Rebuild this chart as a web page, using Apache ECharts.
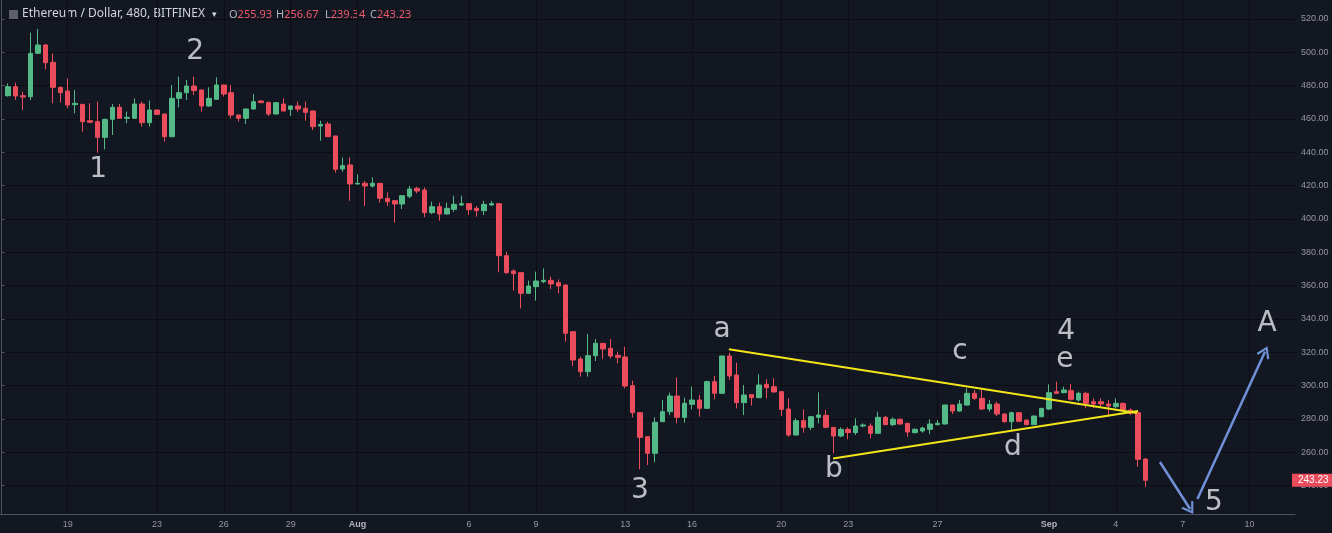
<!DOCTYPE html>
<html><head><meta charset="utf-8">
<script src="https://cdn.jsdelivr.net/npm/echarts@6/dist/echarts.min.js"></script>
<style>html,body{margin:0;padding:0;background:#131722;overflow:hidden}#c{width:1332px;height:533px}</style>
</head><body><div id="c"></div>
<script>
// Candle period: 480 minutes (1/3 day). X values are days since 16 Jul 00:00.
const firstCandleDay = 1 / 3;
const candleDays = 1 / 3;

const opens = [474.0,479.4,474.0,473.4,499.4,504.4,494.0,479.0,476.8,468.6,
468.8,459.0,458.4,449.0,459.8,467.0,460.4,460.4,469.0,457.8,
465.4,463.0,449.4,472.4,475.8,479.8,477.4,467.8,471.8,480.4,
475.8,462.4,460.4,466.0,470.8,470.0,463.0,469.0,465.8,467.8,
466.4,464.8,455.8,457.0,449.8,430.0,432.4,421.0,421.4,419.8,
421.4,412.4,411.0,409.0,413.6,418.4,417.4,403.8,407.4,403.0,
405.8,408.4,409.2,406.4,405.0,408.4,409.2,378.0,368.8,367.8,
355.4,359.4,362.4,363.2,361.8,360.4,332.4,316.0,308.4,318.0,
325.4,322.4,318.2,317.2,300.0,283.8,269.4,259.4,278.4,284.4,
293.8,281.0,288.8,291.4,286.4,302.4,295.4,317.8,306.4,289.8,
294.6,292.8,300.8,299.4,296.4,286.0,270.4,279.0,275.0,281.0,
282.2,275.0,269.8,273.8,271.8,275.8,275.8,271.4,281.0,276.6,
279.8,277.4,271.8,272.8,273.8,276.6,277.0,288.4,284.8,288.4,
295.4,292.4,286.0,289.0,283.0,278.4,283.8,279.4,276.6,281.4,
286.0,296.4,295.8,297.0,291.4,295.4,290.4,290.4,289.0,287.4,
289.4,285.4,283.8,255.93];

const closes = [479.4,473.8,473.2,499.4,504.4,493.8,479.0,475.8,468.4,469.4,
458.4,458.0,449.0,459.8,467.0,460.4,461.0,469.0,457.8,465.4,
462.8,449.4,472.4,475.8,479.8,477.0,467.8,472.4,480.4,475.0,
462.4,460.4,466.0,470.4,469.8,463.0,469.8,464.8,467.8,466.0,
464.0,455.4,456.8,449.4,429.8,432.0,421.0,421.4,419.8,421.4,
412.4,410.4,409.0,414.0,418.0,416.8,403.8,407.4,403.0,406.4,
408.8,409.2,405.6,405.0,408.8,409.2,378.0,367.8,367.2,355.4,
359.8,362.8,363.2,361.0,359.8,331.4,315.4,308.4,318.0,325.4,
322.0,317.8,317.0,299.8,283.8,269.0,259.4,278.0,284.4,293.8,
281.0,289.4,291.4,286.4,302.4,295.4,317.8,305.8,289.8,294.4,
292.8,300.4,298.8,296.2,285.8,270.4,279.0,275.0,281.4,282.4,
275.0,269.8,273.8,271.8,275.8,276.4,271.4,281.0,276.6,279.8,
277.0,272.2,273.8,274.6,277.0,277.4,288.4,284.8,289.0,295.4,
292.4,286.0,288.8,283.0,278.4,283.8,278.6,276.6,281.8,286.4,
295.8,295.4,297.4,291.8,295.4,289.4,289.0,289.0,287.8,289.4,
285.4,283.4,255.8,243.23];

const lows = [473.4,471.4,465.4,471.4,499.0,489.8,469.4,469.8,466.4,463.4,
452.4,457.8,439.8,441.8,450.4,460.0,457.4,460.0,455.4,455.4,
462.4,446.4,449.0,467.0,471.4,474.4,464.4,467.4,471.6,473.4,
460.4,458.4,457.0,465.8,469.6,461.8,462.8,464.6,461.8,464.4,
459.0,453.4,447.0,449.2,427.8,428.4,411.0,420.8,407.8,418.8,
409.8,407.8,397.8,406.0,412.4,415.4,401.0,403.0,399.0,402.8,
404.4,407.8,402.4,401.4,402.4,408.0,368.0,367.0,357.0,346.4,
355.2,351.0,361.4,358.0,355.4,326.4,311.8,305.4,305.4,314.8,
316.0,316.4,313.4,298.4,281.0,249.8,252.4,254.0,278.2,282.4,
277.4,277.8,285.8,281.4,286.2,291.8,295.2,303.4,286.4,282.4,
288.0,292.6,292.4,296.0,281.8,269.4,270.2,271.8,273.4,277.4,
274.4,259.4,269.0,267.8,270.4,275.0,268.4,271.2,276.4,275.8,
276.6,269.4,271.4,271.8,271.0,276.2,276.8,283.0,284.4,288.0,
291.4,285.4,284.4,281.8,277.8,273.4,278.4,276.2,276.4,281.0,
285.4,295.0,295.4,291.0,290.4,286.4,286.4,287.4,281.4,286.4,
285.0,282.4,251.4,239.34];

const highs = [481.4,481.8,476.4,511.8,514.0,505.0,499.4,479.4,484.4,477.4,
469.0,469.4,470.4,460.2,469.0,469.0,464.4,472.4,470.4,471.0,
465.6,463.2,480.4,485.4,483.4,485.4,477.6,479.0,485.0,480.6,
480.4,462.6,466.2,475.0,471.4,470.2,470.0,472.4,468.0,470.4,
470.4,465.0,459.0,458.4,450.0,436.8,437.0,426.8,422.8,425.0,
421.6,416.0,411.2,414.2,419.8,419.4,419.0,410.4,409.8,409.8,
414.0,414.0,409.4,407.8,410.8,410.8,409.4,380.4,369.8,368.0,
363.0,368.4,370.4,365.4,363.8,360.6,332.6,317.4,331.0,328.0,
325.6,328.0,320.4,323.4,303.0,284.0,269.6,281.0,291.4,295.8,
305.0,292.8,299.4,294.4,303.0,305.8,318.0,319.8,313.8,300.4,
294.8,306.8,303.8,304.4,296.6,292.4,280.4,285.8,281.6,296.0,
285.4,275.2,275.0,275.0,280.4,277.4,277.4,284.4,281.8,281.0,
280.4,277.6,274.4,275.4,279.8,279.4,288.6,288.6,291.4,298.4,
297.4,297.4,291.4,290.4,283.2,284.4,284.0,279.6,282.0,286.6,
300.8,302.4,299.4,301.0,296.4,296.4,292.4,292.4,291.4,292.4,
289.8,286.4,284.4,256.67];

const xGridDays   = [0, 3, 7, 10, 13, 16, 21, 24, 28, 31, 35, 38, 42, 47, 50, 53, 56];
const xTickDays   = [3, 7, 10, 13, 16, 21, 24, 28, 31, 35, 38, 42, 47, 50, 53, 56];
const xTickLabels = ['19','23','26','29','Aug','6','9','13','16','20','23','27','Sep','4','7','10'];
const yTickValues = [240,260,280,300,320,340,360,380,400,420,440,460,480,500,520];

// Wave annotations: [day, price, text]
const waveLabels = [
  [4.37, 429.4, '1'], [8.71, 500.2, '2'], [28.66, 236.8, '3'], [47.77, 332.2, '4'],
  [54.40, 229.6, '5'], [56.78, 337.0, 'A'],
  [32.34, 333.4, 'a'], [37.36, 249.4, 'b'], [43.01, 320.2, 'c'], [45.39, 262.6, 'd'], [47.72, 315.4, 'e']
];
// Triangle trendlines: [day, price]
const upperLine = [[32.65, 321.8], [50.95, 283.6]];
const lowerLine = [[37.32, 256.3], [51.00, 284.8]];
// Projection arrows: [fromDay, fromPrice, toDay, toPrice]
const arrows = [[51.98, 254.2, 53.33, 226.0], [53.66, 232.0, 56.69, 320.4]];

const lastPrice = 243.23;

const candles = opens.map((o, i) => [firstCandleDay + i * candleDays, o, closes[i], lows[i], highs[i]]);

const UP = '#53b987', DOWN = '#eb4d5c';
const chart = echarts.init(document.getElementById('c'));
const axisFont = 'Liberation Sans, Arial, sans-serif';
const hdrFont = '11px Noto Sans, sans-serif';

chart.setOption({
  backgroundColor: '#131722',
  animation: false,
  grid: { left: 0, top: 0, right: 37, bottom: 19, containLabel: false, outerBoundsMode: 'none' },
  xAxis: {
    type: 'value', min: -0.036, max: 58.036,
    axisLine: { show: true, lineStyle: { color: '#50535e', width: 1 } },
    axisTick: { show: false, customValues: xGridDays },
    splitLine: { show: true, lineStyle: { color: '#0b0d12', width: 1 } },
    axisLabel: {
      customValues: xTickDays, color: '#9598a1', fontSize: 9, fontFamily: axisFont, margin: 6,
      formatter: v => { const k = xTickDays.indexOf(Math.round(v)); const t = k >= 0 ? xTickLabels[k] : ''; return (t === 'Aug' || t === 'Sep') ? '{b|' + t + '}' : t; },
      rich: { b: { fontWeight: 'bold', color: '#b2b5be', fontSize: 9, fontFamily: axisFont } }
    }
  },
  yAxis: {
    type: 'value', position: 'right', min: 223, max: 531.4, scale: true,
    axisLine: { show: true, lineStyle: { color: '#50535e', width: 1 } },
    axisTick: { show: true, length: 4, customValues: yTickValues, lineStyle: { color: '#50535e' } },
    splitLine: { show: true, lineStyle: { color: '#0b0d12', width: 1 } },
    axisLabel: { customValues: yTickValues, color: '#9598a1', fontSize: 9, fontFamily: axisFont, margin: 6,
      formatter: v => v.toFixed(2) }
  },
  series: [
    {
      type: 'candlestick', data: candles, encode: { x: 0, y: [1, 2, 3, 4] },
      barWidth: 5,
      itemStyle: { color: UP, color0: DOWN, borderColor: UP, borderColor0: DOWN, borderColorDoji: UP, borderWidth: 1 },
      markLine: {
        silent: true, symbol: ['none', 'none'],
        lineStyle: { color: 'rgba(0,0,0,0)', width: 0 },
        label: { show: true, position: 'end', distance: -3, formatter: () => lastPrice.toFixed(2),
          backgroundColor: DOWN, color: '#ffffff', fontSize: 10, fontFamily: axisFont, padding: [2, 6, 1, 6] },
        data: [{ yAxis: lastPrice }]
      }
    },
    { type: 'line', data: upperLine, symbol: 'none', lineStyle: { color: '#f2e61b', width: 2 }, silent: true },
    { type: 'line', data: lowerLine, symbol: 'none', lineStyle: { color: '#f2e61b', width: 2 }, silent: true },
    {
      type: 'scatter', data: [], silent: true,
      markLine: {
        silent: true, symbol: ['none', 'path://M5,0 L10,9 L8.6,10 L5,3.2 L1.4,10 L0,9 Z'], symbolSize: [14, 12],
        lineStyle: { color: '#7090d8', width: 2.5, type: 'solid' }, label: { show: false },
        data: arrows.map(a => [{ coord: [a[0], a[1]] }, { coord: [a[2], a[3]] }])
      }
    },
    {
      type: 'scatter', data: waveLabels, symbolSize: 0, silent: true,
      label: { show: true, position: 'inside', formatter: p => p.data[2], color: '#e6e8ec', fontSize: 28, fontFamily: 'DejaVu Sans, sans-serif' }
    }
  ],
  graphic: [
    { type: 'rect', left: 9, top: 10, shape: { width: 9, height: 9 }, style: { fill: '#5d606b' } },
    { type: 'text', left: 22, top: 8, style: { text: 'Ethereum / Dollar, 480, BITFINEX', fill: '#d1d4dc', font: '12px Noto Sans, sans-serif' } },
    { type: 'text', left: 212, top: 10, style: { text: '▾', fill: '#d1d4dc', font: '9px Noto Sans, sans-serif' } },
    { type: 'text', left: 229, top: 9, style: { text: '{k|O}{v|255.93}', rich: { k: { fill: '#b2b5be', font: hdrFont }, v: { fill: '#ef5a6a', font: hdrFont } } } },
    { type: 'text', left: 276, top: 9, style: { text: '{k|H}{v|256.67}', rich: { k: { fill: '#b2b5be', font: hdrFont }, v: { fill: '#ef5a6a', font: hdrFont } } } },
    { type: 'text', left: 325, top: 9, style: { text: '{k|L}{v|239.34}', rich: { k: { fill: '#b2b5be', font: hdrFont }, v: { fill: '#ef5a6a', font: hdrFont } } } },
    { type: 'text', left: 370, top: 9, style: { text: '{k|C}{v|243.23}', rich: { k: { fill: '#b2b5be', font: hdrFont }, v: { fill: '#ef5a6a', font: hdrFont } } } }
  ]
});
</script>
</body></html>
